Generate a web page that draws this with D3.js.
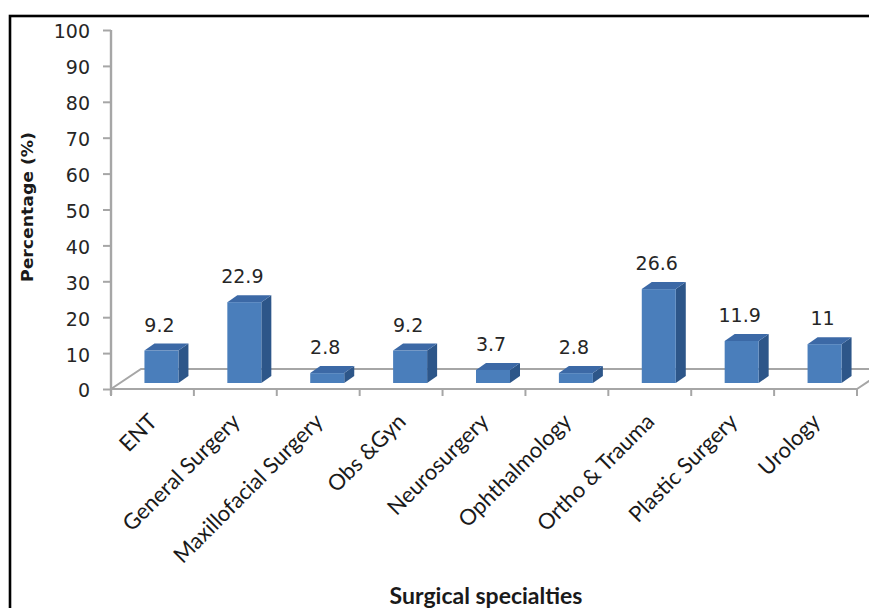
<!DOCTYPE html>
<html>
<head>
<meta charset="utf-8">
<script src="https://cdn.jsdelivr.net/npm/d3@7"></script>
<style>
  html, body { margin: 0; padding: 0; background: #fff; }
  svg { display: block; }
</style>
</head>
<body>
<svg id="chart" width="869" height="608"></svg>
<script>
// Share of cases by surgical specialty (%)
const categories = ["ENT", "General Surgery", "Maxillofacial Surgery", "Obs &Gyn", "Neurosurgery",
                    "Ophthalmology", "Ortho & Trauma", "Plastic Surgery", "Urology"];
const values = [9.2, 22.9, 2.8, 9.2, 3.7, 2.8, 26.6, 11.9, 11];
const yTicks = [0, 10, 20, 30, 40, 50, 60, 70, 80, 90, 100];
const xTitle = "Surgical specialties";
const yTitle = "Percentage (%)";

const svg = d3.select("#chart");

// outer frame
svg.append("rect")
  .attr("x", 10).attr("y", 16).attr("width", 900).attr("height", 700)
  .attr("fill", "none").attr("stroke", "#000").attr("stroke-width", 2.6);

// plot geometry (pseudo-3D: front plane, floor depth, bar depth)
const left = 111, right = 857, floorY = 389, topY = 30;
const floorDepth = { dx: 30, dy: -20 };
const barPlane = { dx: 9, dy: -6 };
const barDepth = { dx: 10, dy: -7 };
const barWidth = 34;

const x = d3.scaleBand().domain(categories).range([left, right]).padding(0);
const yAxisScale = d3.scaleLinear().domain([0, 100]).range([floorY, topY]);
const yBar = d3.scaleLinear().domain([0, 100]).range([floorY + barPlane.dy, topY]);

const gridColor = "#a6a6a6";

// floor outline
const floor = svg.append("g").attr("stroke", gridColor).attr("stroke-width", 2).attr("fill", "none");
floor.append("path").attr("d", d3.line()([
  [left, floorY], [left + floorDepth.dx, floorY + floorDepth.dy],
  [right + floorDepth.dx, floorY + floorDepth.dy], [right, floorY]
]));

// value axis
const yAxis = svg.append("g")
  .attr("transform", `translate(${left},0)`)
  .call(d3.axisLeft(yAxisScale).tickValues(yTicks).tickSize(8).tickSizeOuter(0).tickPadding(13));
yAxis.select(".domain").attr("stroke", gridColor).attr("stroke-width", 2.4)
  .attr("d", `M0,${topY}V${floorY + 6}`);
yAxis.selectAll(".tick line").attr("stroke", gridColor).attr("stroke-width", 2);
yAxis.selectAll(".tick text")
  .attr("font-family", "DejaVu Sans, Verdana, sans-serif")
  .attr("font-size", 19).attr("fill", "#262626").attr("dy", "0.42em");

// category axis: front floor edge with ticks at band boundaries
const xAxis = svg.append("g");
xAxis.append("line")
  .attr("x1", x.range()[0]).attr("x2", x.range()[1])
  .attr("y1", floorY).attr("y2", floorY)
  .attr("stroke", gridColor).attr("stroke-width", 2);
const boundaries = categories.map(c => x(c)).concat([x(categories[categories.length - 1]) + x.bandwidth()]);
xAxis.selectAll("line.tick").data(boundaries).join("line")
  .attr("class", "tick")
  .attr("x1", d => d).attr("x2", d => d)
  .attr("y1", floorY).attr("y2", floorY + 7)
  .attr("stroke", gridColor).attr("stroke-width", 2);

// bars
const barX = c => x(c) + x.bandwidth() / 2 + barPlane.dx - barWidth / 2;
const base = yBar(0);
const bars = svg.append("g").selectAll("g").data(categories.map((c, i) => ({ c, v: values[i] }))).join("g");

bars.append("path") // side face
  .attr("fill", "#2d5689")
  .attr("d", d => {
    const x0 = barX(d.c) + barWidth, yt = yBar(d.v);
    return d3.line()([[x0, yt], [x0 + barDepth.dx, yt + barDepth.dy],
      [x0 + barDepth.dx, base + barDepth.dy], [x0, base]]) + "Z";
  });
bars.append("path") // top face
  .attr("fill", "#3c69a6")
  .attr("d", d => {
    const x0 = barX(d.c), yt = yBar(d.v);
    return d3.line()([[x0, yt], [x0 + barDepth.dx, yt + barDepth.dy],
      [x0 + barWidth + barDepth.dx, yt + barDepth.dy], [x0 + barWidth, yt]]) + "Z";
  });
bars.append("rect") // front face
  .attr("fill", "#4a7ebb")
  .attr("x", d => barX(d.c)).attr("width", barWidth)
  .attr("y", d => yBar(d.v)).attr("height", d => base - yBar(d.v));

// value labels
bars.append("text")
  .attr("x", d => barX(d.c) + barWidth / 2 - 2)
  .attr("y", d => yBar(d.v) + barDepth.dy - 12)
  .attr("text-anchor", "middle")
  .attr("font-family", "DejaVu Sans, Verdana, sans-serif")
  .attr("font-size", 19).attr("fill", "#262626")
  .text(d => d.v);

// rotated category labels
svg.append("g").selectAll("text").data(categories).join("text")
  .attr("transform", d => `translate(${x(d) + x.bandwidth() / 2 + 6},423) rotate(-45)`)
  .attr("text-anchor", "end")
  .attr("font-family", "Lato, 'Open Sans', sans-serif")
  .attr("font-size", 22).attr("fill", "#1a1a1a")
  .text(d => d);

// axis titles
svg.append("text")
  .attr("x", 486).attr("y", 604)
  .attr("text-anchor", "middle")
  .attr("font-family", "Lato, 'Open Sans', sans-serif")
  .attr("font-weight", "bold").attr("font-size", 23).attr("fill", "#1a1a1a")
  .text(xTitle);

svg.append("text")
  .attr("transform", "translate(33,207) rotate(-90)")
  .attr("text-anchor", "middle")
  .attr("font-family", "DejaVu Sans, Verdana, sans-serif")
  .attr("font-weight", "bold").attr("font-size", 16).attr("fill", "#1a1a1a")
  .attr("textLength", 150).attr("lengthAdjust", "spacingAndGlyphs")
  .text(yTitle);
</script>
</body>
</html>
